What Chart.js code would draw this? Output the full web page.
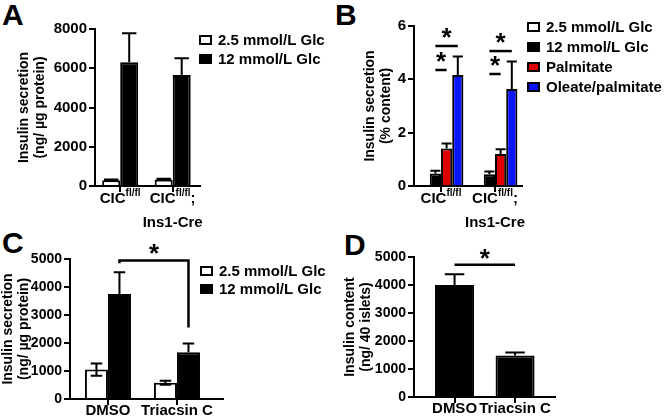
<!DOCTYPE html>
<html>
<head>
<meta charset="utf-8">
<script src="https://cdn.jsdelivr.net/npm/chart.js@4.4.0/dist/chart.umd.min.js"></script>
<style>
  body { margin: 0; background: #fff; width: 670px; height: 419px; position: relative; overflow: hidden;
         font-family: "Liberation Sans", Arial, sans-serif; }
  .panel { position: absolute; }
  .tag { position: absolute; font-weight: bold; font-size: 30px; line-height: 1; color: #000; }
</style>
</head>
<body>
<div class="tag" style="left:2px;top:0px">A</div>
<div class="tag" style="left:335px;top:0px">B</div>
<div class="tag" style="left:2px;top:228px">C</div>
<div class="tag" style="left:344px;top:230px">D</div>

<div class="panel" style="left:0;top:0"><canvas id="chartA" width="335" height="235"></canvas></div>
<div class="panel" style="left:335px;top:0"><canvas id="chartB" width="335" height="235"></canvas></div>
<div class="panel" style="left:0;top:210px"><canvas id="chartC" width="335" height="209"></canvas></div>
<div class="panel" style="left:335px;top:210px"><canvas id="chartD" width="335" height="209"></canvas></div>

<script>
// ---- data ----
const seriesGlc = ['2.5 mmol/L Glc', '12 mmol/L Glc'];
const seriesB = ['2.5 mmol/L Glc', '12 mmol/L Glc', 'Palmitate', 'Oleate/palmitate'];

// panel A: insulin secretion (ng/ ug protein)
const groupsA = [
  {main: 'CIC', sup: 'fl/fl', tail: '', line2: ''},
  {main: 'CIC', sup: 'fl/fl', tail: ';', line2: 'Ins1-Cre'}
];
const lowA = [290, 330];
const lowErrA = [40, 40];
const highA = [6300, 5650];
const highErrA = [1480, 860];

// panel B: insulin secretion (% content)
const lowB = [0.03, 0.03];
const lowErrB = [0, 0];
const highB = [0.47, 0.44];
const highErrB = [0.1, 0.1];
const palmB = [1.41, 1.2];
const palmErrB = [0.18, 0.18];
const oleB = [4.16, 3.64];
const oleErrB = [0.7, 1.03];
// significance: [group, from series, to series, y level]
const sigB = [[0, 1, 2, 4.35], [0, 1, 3, 5.25], [1, 1, 2, 4.2], [1, 1, 3, 5.06]];

// panel C: triacsin C, insulin secretion
const groupsC = ['DMSO', 'Triacsin C'];
const lowC = [1050, 580];
const lowErrC = [220, 70];
const highC = [3750, 1670];
const highErrC = [780, 310];
// [group1, series1, group2, series2, level, left end, right end]
const sigC = [[0, 1, 1, 1, 4950, 4850, 2550]];

// panel D: insulin content (ng/ 40 islets)
const groupsD = ['DMSO', 'Triacsin C'];
const contentD = [4000, 1480];
const contentErrD = [380, 110];
const sigD = [[0, 0, 1, 0, 4720, 4720, 4720]];

// ---- helpers ----
Chart.defaults.font.family = '"Liberation Sans", Arial, sans-serif';
Chart.defaults.font.weight = 'bold';
Chart.defaults.color = '#000';
Chart.defaults.animation = false;

function pts(values) { return values.map((v, i) => ({x: i, y: v})); }

function bars(label, values, errors, color) {
  return {label: label, data: pts(values), errors: errors, backgroundColor: color,
          borderColor: '#000', borderWidth: 2, barPercentage: 1};
}

function yAxis(max, step, title, width, titlePad, size) {
  return {
    min: 0, max: max,
    ticks: {stepSize: step, padding: 2, color: '#000', font: {size: size, weight: 'bold'},
            callback: v => String(v)},
    grid: {drawOnChartArea: false, color: '#000', lineWidth: 2, tickLength: 6},
    border: {color: '#000', width: 2},
    title: {display: true, text: title, color: '#000', font: {size: 14, weight: 'bold', lineHeight: 1.15},
            padding: {top: titlePad, bottom: 0}},
    afterFit: s => { s.width = width; }
  };
}

function xAxis(min, max, count) {
  return {
    type: 'linear', min: min, max: max, offset: false,
    afterBuildTicks: s => { s.ticks = Array.from({length: count}, (_, i) => ({value: i})); },
    ticks: {autoSkip: false, maxRotation: 0, callback: () => ''},
    grid: {offset: false, drawOnChartArea: false, color: '#000', lineWidth: 2, tickLength: 6},
    border: {color: '#000', width: 2},
    afterFit: s => { s.height = 8; }
  };
}

const extras = {
  id: 'extras',
  afterDatasetsDraw(chart, args, o) {
    const ctx = chart.ctx, y = chart.scales.y;
    ctx.save();
    ctx.strokeStyle = '#000';
    ctx.lineWidth = 2;
    // error bars
    chart.data.datasets.forEach((ds, i) => {
      chart.getDatasetMeta(i).data.forEach((bar, j) => {
        const v = ds.data[j].y, e = ds.errors[j];
        if (!e) return;
        const half = bar.width * o.cap / 2;
        const top = y.getPixelForValue(v + e);
        ctx.beginPath();
        ctx.moveTo(bar.x, bar.y); ctx.lineTo(bar.x, top);
        ctx.moveTo(bar.x - half, top); ctx.lineTo(bar.x + half, top);
        if (ds.backgroundColor === '#fff') {
          const bot = y.getPixelForValue(v - e);
          ctx.moveTo(bar.x, bar.y); ctx.lineTo(bar.x, bot);
          ctx.moveTo(bar.x - half, bot); ctx.lineTo(bar.x + half, bot);
        }
        ctx.stroke();
      });
    });
    // significance lines
    ctx.lineWidth = 2.5;
    ctx.fillStyle = '#000';
    ctx.font = 'bold 26px "Liberation Sans", Arial, sans-serif';
    ctx.textAlign = 'center';
    ctx.textBaseline = 'alphabetic';
    (o.sig || []).forEach(s => {
      let x1, x2, ly, d1, d2;
      if (s.length === 4) {
        x1 = chart.getDatasetMeta(s[1]).data[s[0]].x;
        x2 = chart.getDatasetMeta(s[2]).data[s[0]].x;
        ly = d1 = d2 = y.getPixelForValue(s[3]);
      } else {
        x1 = chart.getDatasetMeta(s[1]).data[s[0]].x;
        x2 = chart.getDatasetMeta(s[3]).data[s[2]].x;
        ly = y.getPixelForValue(s[4]);
        d1 = y.getPixelForValue(s[5]);
        d2 = y.getPixelForValue(s[6]);
      }
      ctx.beginPath();
      ctx.moveTo(x1, d1); ctx.lineTo(x1, ly); ctx.lineTo(x2, ly); ctx.lineTo(x2, d2);
      ctx.stroke();
      ctx.fillText('*', (x1 + x2) / 2, ly + o.starDy);
    });
    ctx.restore();
  },
  afterDraw(chart, args, o) {
    const ctx = chart.ctx;
    ctx.save();
    // legend
    if (o.legend) {
      const L = o.legend;
      ctx.font = 'bold 15px "Liberation Sans", Arial, sans-serif';
      ctx.textBaseline = 'middle';
      ctx.textAlign = 'left';
      chart.data.datasets.forEach((ds, i) => {
        const cy = L.y + i * L.gap;
        ctx.fillStyle = ds.backgroundColor;
        ctx.fillRect(L.x, cy - 5, 13, 10);
        ctx.strokeStyle = '#000';
        ctx.lineWidth = 2;
        ctx.strokeRect(L.x + 1, cy - 4, 11, 8);
        ctx.fillStyle = '#000';
        ctx.fillText(ds.label, L.x + 19, cy + 1);
      });
    }
    // x labels (with superscript where needed)
    if (o.groups) {
      const xs = chart.scales.x;
      const big = 'bold 15px "Liberation Sans", Arial, sans-serif';
      const small = 'bold 10px "Liberation Sans", Arial, sans-serif';
      ctx.fillStyle = '#000';
      ctx.textBaseline = 'alphabetic';
      o.groups.forEach((g, i) => {
        const cx = xs.getPixelForValue(i);
        if (typeof g === 'string') {
          ctx.font = big;
          ctx.textAlign = 'center';
          ctx.fillText(g, cx, o.labelY);
          return;
        }
        ctx.textAlign = 'left';
        ctx.font = big;
        const w1 = ctx.measureText(g.main).width, w3 = ctx.measureText(g.tail).width;
        ctx.font = small;
        const w2 = ctx.measureText(g.sup).width;
        const x = cx - (w1 + w2 + w3) / 2;
        ctx.font = big;
        ctx.fillText(g.main, x, o.labelY);
        ctx.font = small;
        ctx.fillText(g.sup, x + w1, o.labelY - 7);
        ctx.font = big;
        ctx.fillText(g.tail, x + w1 + w2, o.labelY);
        if (g.line2) {
          ctx.textAlign = 'center';
          ctx.fillText(g.line2, cx, o.labelY + 24);
        }
      });
    }
    ctx.restore();
  }
};

// ---- panel A ----
new Chart(document.getElementById('chartA'), {
  type: 'bar',
  data: {datasets: [
    bars(seriesGlc[0], lowA, lowErrA, '#fff'),
    bars(seriesGlc[1], highA, highErrA, '#000')
  ]},
  options: {
    responsive: false,
    datasets: {bar: {categoryPercentage: 0.686}},
    layout: {padding: {left: 0, top: 29, right: 135, bottom: 41}},
    scales: {
      x: xAxis(-0.48, 1.52, 2),
      y: yAxis(8000, 2000, ['Insulin secretion', '(ng/ \u00b5g protein)'], 95, 16, 15)
    },
    plugins: {legend: {display: false}, tooltip: {enabled: false},
      extras: {cap: 0.8, legend: {x: 199, y: 40, gap: 19}, groups: groupsA, labelY: 203}}
  },
  plugins: [extras]
});

// ---- panel B ----
new Chart(document.getElementById('chartB'), {
  type: 'bar',
  data: {datasets: [
    bars(seriesB[0], lowB, lowErrB, '#fff'),
    bars(seriesB[1], highB, highErrB, '#000'),
    bars(seriesB[2], palmB, palmErrB, '#dd0000'),
    bars(seriesB[3], oleB, oleErrB, '#0a14ff')
  ]},
  options: {
    responsive: false,
    datasets: {bar: {categoryPercentage: 0.83}},
    layout: {padding: {left: 0, top: 26, right: 148, bottom: 41}},
    scales: {
      x: xAxis(-0.5, 1.5, 2),
      y: yAxis(6, 2, ['Insulin secretion', '(% content)'], 79, 27, 15)
    },
    plugins: {legend: {display: false}, tooltip: {enabled: false},
      extras: {cap: 0.9, legend: {x: 192, y: 27, gap: 20}, groups: groupsA, labelY: 203,
               sig: sigB, starDy: 0}}
  },
  plugins: [extras]
});

// ---- panel C ----
new Chart(document.getElementById('chartC'), {
  type: 'bar',
  data: {datasets: [
    bars(seriesGlc[0], lowC, lowErrC, '#fff'),
    bars(seriesGlc[1], highC, highErrC, '#000')
  ]},
  options: {
    responsive: false,
    datasets: {bar: {categoryPercentage: 0.667}},
    layout: {padding: {left: 0, top: 49, right: 112, bottom: 12}},
    scales: {
      x: xAxis(-0.55, 1.667, 2),
      y: yAxis(5000, 1000, ['Insulin secretion', '(ng/ \u00b5g protein)'], 70, 0, 14)
    },
    plugins: {legend: {display: false}, tooltip: {enabled: false},
      extras: {cap: 0.5, legend: {x: 200, y: 61, gap: 18}, sig: sigC, starDy: 2,
               groups: groupsC, labelY: 205}}
  },
  plugins: [extras]
});

// ---- panel D ----
new Chart(document.getElementById('chartD'), {
  type: 'bar',
  data: {datasets: [
    bars('Insulin content', contentD, contentErrD, '#000')
  ]},
  options: {
    responsive: false,
    datasets: {bar: {categoryPercentage: 0.645}},
    layout: {padding: {left: 0, top: 47, right: 115, bottom: 14}},
    scales: {
      x: xAxis(-0.67, 1.66, 2),
      y: yAxis(5000, 1000, ['Insulin content', '(ng/ 40 islets)'], 79, 7, 14)
    },
    plugins: {legend: {display: false}, tooltip: {enabled: false},
      extras: {cap: 0.5, sig: sigD, starDy: 2, groups: groupsD, labelY: 203}}
  },
  plugins: [extras]
});
</script>
</body>
</html>
